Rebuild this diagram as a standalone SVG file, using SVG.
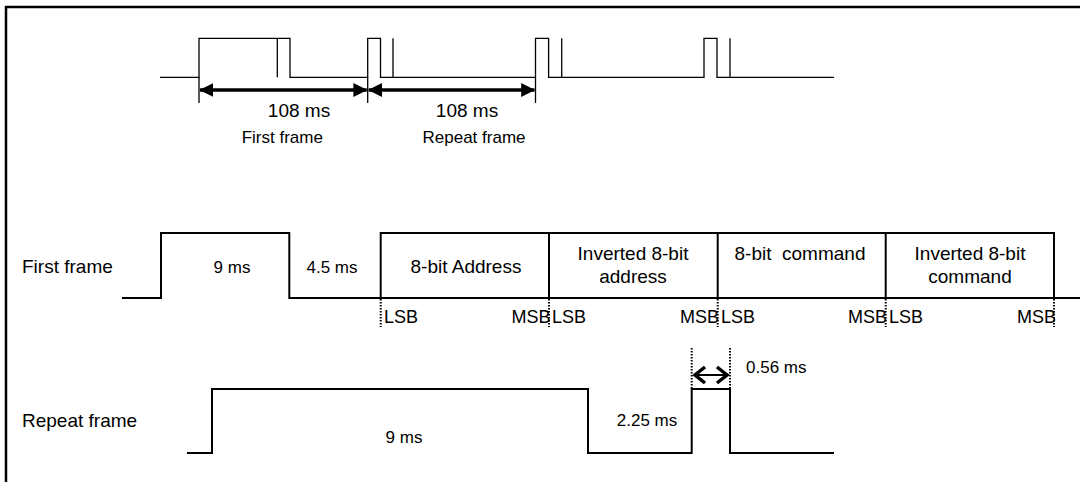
<svg xmlns="http://www.w3.org/2000/svg" width="1080" height="482" viewBox="0 0 1080 482">
<defs>
<style>
.w{fill:none;stroke:#000;stroke-width:2;stroke-linejoin:miter}
.th{fill:none;stroke:#000;stroke-width:1.3}
.t{font-family:"Liberation Sans",Arial,sans-serif;fill:#000}
.s17{font-size:17px}
.s19{font-size:19px}
.s18{font-size:18px}
.dot{stroke:#000;stroke-width:2;stroke-dasharray:1.5 1.5;fill:none}
.arr{stroke:#000;stroke-width:3.5;fill:none}
.c{text-anchor:middle}
</style>
<marker id="ah" viewBox="0 0 10 10" refX="9.5" refY="5" markerWidth="14" markerHeight="14" markerUnits="userSpaceOnUse" orient="auto-start-reverse">
<path d="M0,0 L10,5 L0,10 Z" fill="#000"/>
</marker>
</defs>
<rect width="1080" height="482" fill="#fff"/>
<g id="frame">
<line x1="5" y1="7" x2="1080" y2="7" stroke="#000" stroke-width="2.5"/>
<line x1="6" y1="6" x2="6" y2="482" stroke="#000" stroke-width="2.5"/>
</g>

<g id="overview">
<path class="th" d="M160,77.3 H199 V38.3 H290 V77.3 H367.7 V38.3 H380.5 V77.3 H535.5 V38.3 H548.6 V77.3 H704 V38.3 H717 V77.3 H834"/>
<line class="th" x1="277.3" y1="38.3" x2="277.3" y2="77.3"/>
<line class="th" x1="393" y1="38.3" x2="393" y2="77.3"/>
<line class="th" x1="561.7" y1="38.3" x2="561.7" y2="77.3"/>
<line class="th" x1="730" y1="38.3" x2="730" y2="77.3"/>
<line class="th" x1="199" y1="77.3" x2="199" y2="103"/>
<line class="th" x1="367.7" y1="77.3" x2="367.7" y2="103"/>
<line class="th" x1="535.5" y1="77.3" x2="535.5" y2="103"/>
</g>
<g id="connectors">
<line class="arr" x1="200" y1="90" x2="366.7" y2="90" marker-start="url(#ah)" marker-end="url(#ah)"/>
<line class="arr" x1="368.7" y1="90" x2="534.5" y2="90" marker-start="url(#ah)" marker-end="url(#ah)"/>
<g id="dbl">
<line x1="697" y1="375" x2="725" y2="375" stroke="#000" stroke-width="2"/>
<path d="M705,367 L695,375 L705,383 M717,367 L727,375 L717,383" fill="none" stroke="#000" stroke-width="3.5"/>
</g>
</g>
<g id="overview-labels">
<text class="t s19 c" x="299" y="117.3">108 ms</text>
<text class="t s19 c" x="467" y="117.3">108 ms</text>
<text class="t s17 c" x="282.3" y="143.3">First frame</text>
<text class="t s17 c" x="474" y="143.3">Repeat frame</text>
</g>

<g id="first-frame">
<text class="t s19" x="22" y="273">First frame</text>
<path class="w" d="M122,298 H161 V233 H289.3 V298 H380.7 V233 H1054 V298 M380.7,298 H1080"/>
<line class="w" x1="549" y1="233" x2="549" y2="298"/>
<line class="w" x1="717.7" y1="233" x2="717.7" y2="298"/>
<line class="w" x1="885.7" y1="233" x2="885.7" y2="298"/>
<text class="t s17 c" x="232" y="273">9 ms</text>
<text class="t s17 c" x="332" y="273">4.5 ms</text>
<text class="t s19 c" x="466" y="273">8-bit Address</text>
<text class="t s19 c" x="633" y="259.5">Inverted 8-bit</text>
<text class="t s19 c" x="633" y="283">address</text>
<text class="t s19 c" x="800" y="259.5" xml:space="preserve">8-bit  command</text>
<text class="t s19 c" x="970" y="259.5">Inverted 8-bit</text>
<text class="t s19 c" x="970" y="283">command</text>
<line class="dot" x1="380.7" y1="299" x2="380.7" y2="327"/>
<line class="dot" x1="549" y1="299" x2="549" y2="327"/>
<line class="dot" x1="717.7" y1="299" x2="717.7" y2="327"/>
<line class="dot" x1="885.7" y1="299" x2="885.7" y2="327"/>
<line class="dot" x1="1054" y1="299" x2="1054" y2="327"/>
<g class="t s18">
<text x="384" y="323">LSB</text>
<text x="552" y="323">LSB</text>
<text x="721" y="323">LSB</text>
<text x="889" y="323">LSB</text>
<text x="550.5" y="323" text-anchor="end">MSB</text>
<text x="719" y="323" text-anchor="end">MSB</text>
<text x="887" y="323" text-anchor="end">MSB</text>
<text x="1056" y="323" text-anchor="end">MSB</text>
</g>
</g>

<g id="repeat-frame">
<text class="t s19" x="22" y="427">Repeat frame</text>
<path class="w" d="M187,453 H212 V389 H588 V453 H691.7 V389 H730 V453 H834"/>
<line class="dot" x1="691.7" y1="348" x2="691.7" y2="389"/>
<line class="dot" x1="730" y1="348" x2="730" y2="389"/>
<text class="t s17 c" x="404" y="443">9 ms</text>
<text class="t s17 c" x="647" y="426">2.25 ms</text>
<text class="t s17" x="746" y="373">0.56 ms</text>
</g>
</svg>
